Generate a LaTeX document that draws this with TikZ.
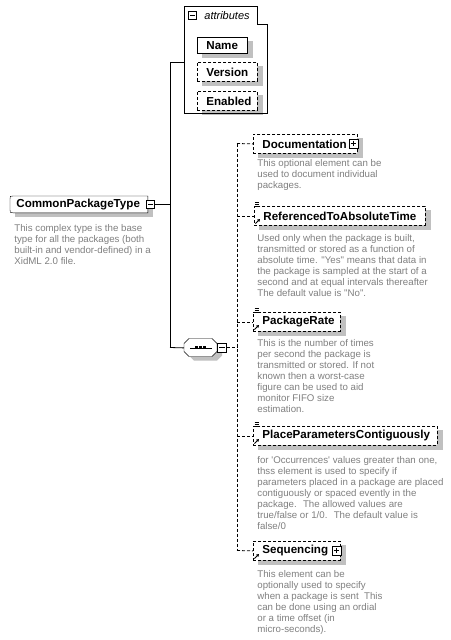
\documentclass[tikz,border=0pt]{standalone}
\usepackage{fontspec}
\setmainfont[Ligatures=TeXOff]{Liberation Sans}
\usetikzlibrary{backgrounds,arrows.meta}
\definecolor{descgray}{RGB}{128,128,128}
\definecolor{shadowgray}{RGB}{192,192,192}
\begin{document}
\begin{tikzpicture}[x=1pt,y=-1pt,line width=0.8pt,
  elem/.style={draw,fill=white,rectangle,inner xsep=9pt,inner ysep=0pt,minimum height=19pt,
    anchor=north west,align=left,font=\fontsize{11.6}{13}\selectfont\bfseries},
  opt/.style={dash pattern=on 3pt off 2pt},
  desc/.style={anchor=north west,inner sep=0pt,align=left,text=descgray,
    font=\fontsize{9.7}{11}\selectfont},
  pm/.style={draw,fill=white,minimum size=9pt,inner sep=0pt,line width=0.8pt},
  annot/.pic={\draw[line width=0.7pt] (0,0) -- (4,0) (0,2) -- (4,2) (0,4) -- (4,4);},
  refarr/.pic={\draw[line width=0.9pt,-{Triangle[length=2.6pt,width=3pt]}] (0,0) -- (4.5,-4.5);}
]
\useasboundingbox (0,0) rectangle (450,640);

% attributes group
\draw (184,6) -- (257,6) -- (257,24) -- (267,24) -- (267,113) -- (184,113) -- cycle;
\coordinate (attrl) at (184,62);
\node[pm,minimum size=8pt] (attrm) at (192.5,15.5) {};
\draw (attrm.west) ++(2pt,0) -- ([xshift=-2pt]attrm.east);
\node[anchor=west,inner sep=0pt,font=\fontsize{11}{13}\selectfont\itshape] (attrt) at (204,15.5) {attributes};

\node[elem,minimum height=16pt,text width=32pt] (name) at (197,37) {Name};
\node[elem,opt,text width=42pt] (version) at (197,62) {Version};
\node[elem,opt,text width=42pt] (enabled) at (197,91) {Enabled};

% main complex type
\node[inner xsep=6pt,inner ysep=0pt,text width=125pt,align=left,minimum height=16pt,
  anchor=north west,font=\fontsize{11.6}{13}\selectfont\bfseries] (main) at (10,196) {CommonPackageType};
\node[pm,minimum size=8pt] (mainm) at (150.5,204) {};
\draw (mainm.west) ++(2pt,0) -- ([xshift=-2pt]mainm.east);
\node[desc] (maind) at (14,224.5) {This complex type is the base\\type for all the packages (both\\built-in and vendor-defined) in a\\XidML 2.0 file.};

% sequence compositor
\node[minimum width=33pt,minimum height=18pt,inner sep=0pt,anchor=north west] (seq) at (184,338.5) {};
\draw ([xshift=6pt]seq.west) -- ([xshift=-6pt]seq.east);
\foreach \dx in {-4,0,4} \fill ([xshift=\dx pt]seq.center) ++(-1.5pt,-1.5pt) rectangle ++(3pt,3pt);
\node[pm] (seqm) at (222,347.5) {};
\draw (seqm.west) ++(2pt,0) -- ([xshift=-2pt]seqm.east);

% solid connectors
\coordinate (mj) at (170,204);
\coordinate (atop) at (170,62);
\coordinate (abot) at (170,347.5);
\draw (mainm.east) -- (mj);
\draw (atop) -- (abot);
\draw (atop) -- (attrl);
\draw (abot) -- (seq.west);

% child elements
\node[elem,opt,text width=86pt] (doc) at (253,134) {Documentation};
\node[pm] (docp) at (353.5,143.5) {};
\draw (docp.west) ++(2pt,0) -- ([xshift=-2pt]docp.east);
\draw (docp.north) ++(0,-2pt) -- ([yshift=2pt]docp.south);
\node[desc] (docd) at (257,159.5) {This optional element can be\\used to document individual\\packages.};

\node[elem,opt,text width=153pt] (ref) at (254,206) {ReferencedToAbsoluteTime};
\pic at (255,202.5) {annot};
\pic at (255.5,223.5) {refarr};
\node[desc] (refd) at (257,234.5) {Used only when the package is built,\\transmitted or stored as a function of\\absolute time. "Yes" means that data in\\the package is sampled at the start of a\\second and at equal intervals thereafter\\The default value is "No".};

\node[elem,opt,text width=69pt] (rate) at (253,312) {PackageRate};
\pic at (254.5,308.5) {annot};
\pic at (254.5,329.5) {refarr};
\node[desc] (rated) at (257,339.5) {This is the number of times\\per second the package is\\transmitted or stored. If not\\known then a worst-case\\figure can be used to aid\\monitor FIFO size\\estimation.};

\node[elem,opt,text width=166pt] (place) at (253,426) {PlaceParametersContiguously};
\pic at (254.5,422.5) {annot};
\pic at (254.5,443.5) {refarr};
\node[desc] (placed) at (257,456.5) {for 'Occurrences' values greater than one,\\thss element is used to specify if\\parameters placed in a package are placed\\contiguously or spaced evently in the\\package.~ The allowed values are\\true/false or 1/0.~ The default value is\\false/0};

\node[elem,opt,text width=69pt] (seqel) at (253,541) {Sequencing};
\node[pm] (seqp) at (336.5,550.5) {};
\draw (seqp.west) ++(2pt,0) -- ([xshift=-2pt]seqp.east);
\draw (seqp.north) ++(0,-2pt) -- ([yshift=2pt]seqp.south);
\pic at (254.5,558.5) {refarr};
\node[desc] (seqd) at (257,570.5) {This element can be\\optionally used to specify\\when a package is sent~ This\\can be done using an ordial\\or a time offset (in\\micro-seconds).};

% dashed connectors
\coordinate (sj) at (237,347.5);
\coordinate (vtop) at (237,143.5);
\coordinate (vbot) at (237,550.5);
\draw[opt] (seqm.east) -- (sj);
\draw[opt] (vtop) -- (vbot);
\draw[opt] (vtop) -- (doc.west);
\draw[opt] (ref.west -| vtop) -- (ref.west);
\draw[opt] (rate.west -| vtop) -- (rate.west);
\draw[opt] (place.west -| vtop) -- (place.west);
\draw[opt] (vbot) -- (seqel.west);

% shapes and shadows behind
\begin{scope}[on background layer]
  \fill[white] (0,0) rectangle (450,640);
  \foreach \n in {name,version,enabled,doc,ref,rate,place,seqel,main}
    \fill[shadowgray] ([shift={(5pt,-4pt)}]\n.north west) rectangle ([shift={(5pt,-4pt)}]\n.south east);
  % main complex type outline
  \draw[fill=white] ([xshift=3pt]main.north west) -- (main.north east) -- (main.south east)
    -- ([xshift=3pt]main.south west) .. controls (main.south west) .. ([yshift=3pt]main.south west)
    -- ([yshift=-3pt]main.north west) .. controls (main.north west) .. cycle;
  % sequence octagon and its shadow
  \fill[shadowgray] (194,342.5) -- (217,342.5) -- (222,347.5) -- (222,355.5) -- (217,360.5)
    -- (194,360.5) -- (189,355.5) -- (189,347.5) -- cycle;
  \draw[fill=white] (189,338.5) -- (212,338.5) -- (217,343.5) -- (217,351.5) -- (212,356.5)
    -- (189,356.5) -- (184,351.5) -- (184,343.5) -- cycle;
\end{scope}
\end{tikzpicture}
\end{document}
